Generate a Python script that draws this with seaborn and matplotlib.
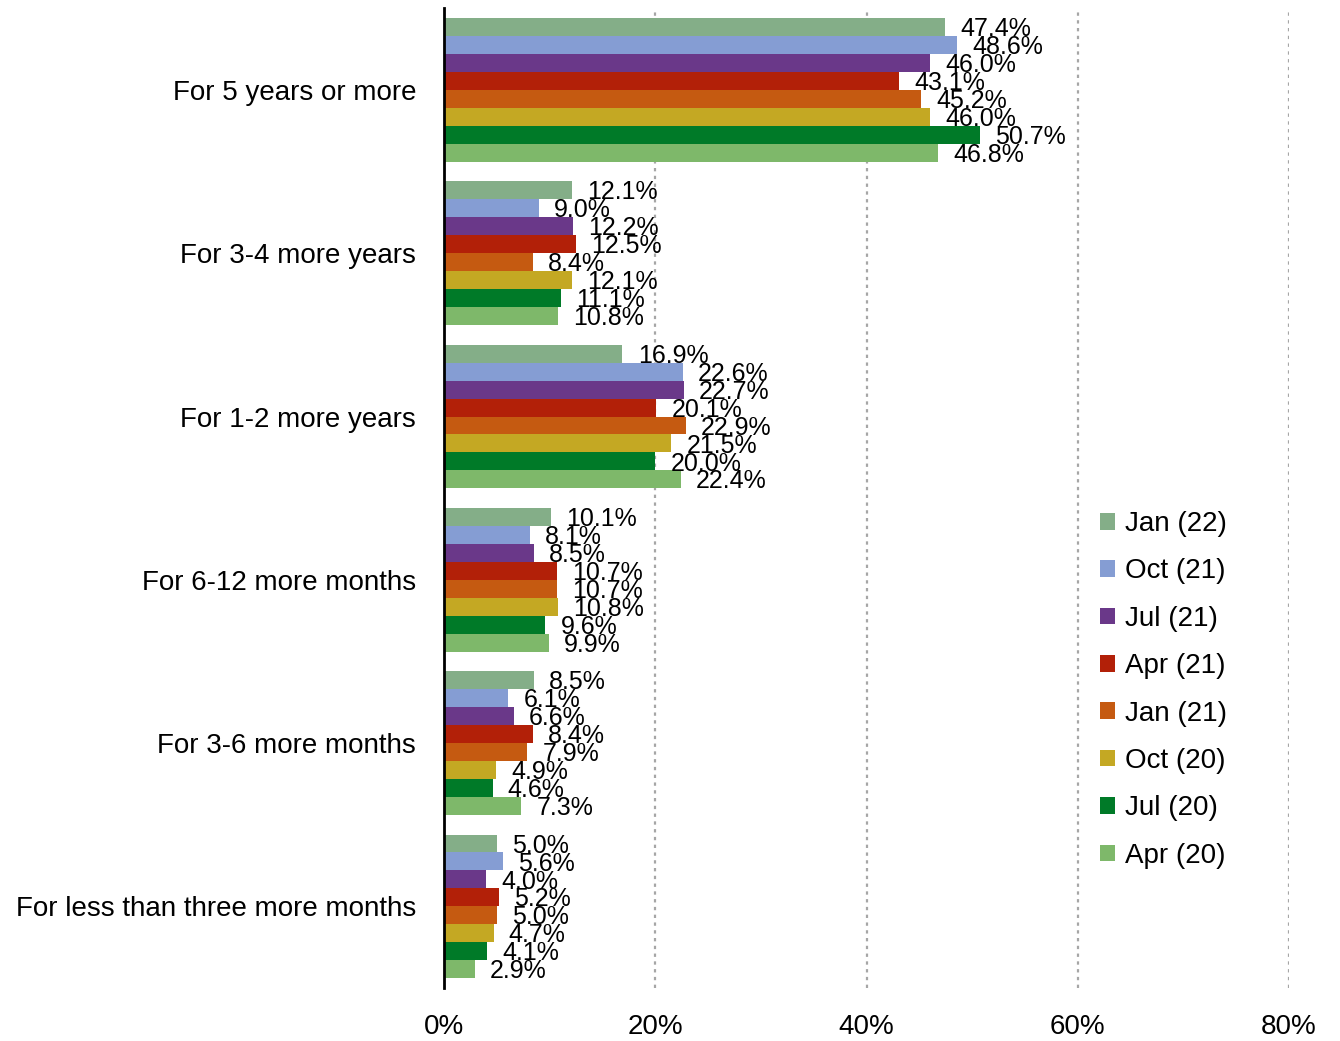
import matplotlib
matplotlib.use("Agg")
import matplotlib.pyplot as plt
import pandas as pd
import seaborn as sns
from matplotlib.patches import Patch
from matplotlib.ticker import FuncFormatter

# Expected remaining duration, by survey wave (percent of respondents)
categories = [
    "For 5 years or more",
    "For 3-4 more years",
    "For 1-2 more years",
    "For 6-12 more months",
    "For 3-6 more months",
    "For less than three more months",
]
waves = ["Jan (22)", "Oct (21)", "Jul (21)", "Apr (21)",
         "Jan (21)", "Oct (20)", "Jul (20)", "Apr (20)"]

jan22 = [47.4, 12.1, 16.9, 10.1, 8.5, 5.0]
oct21 = [48.6, 9.0, 22.6, 8.1, 6.1, 5.6]
jul21 = [46.0, 12.2, 22.7, 8.5, 6.6, 4.0]
apr21 = [43.1, 12.5, 20.1, 10.7, 8.4, 5.2]
jan21 = [45.2, 8.4, 22.9, 10.7, 7.9, 5.0]
oct20 = [46.0, 12.1, 21.5, 10.8, 4.9, 4.7]
jul20 = [50.7, 11.1, 20.0, 9.6, 4.6, 4.1]
apr20 = [46.8, 10.8, 22.4, 9.9, 7.3, 2.9]

wave_colors = ["#84AE88", "#859DD3", "#6A3889", "#B22008",
               "#C55A11", "#C4A823", "#007A28", "#7EB86A"]

series = [jan22, oct21, jul21, apr21, jan21, oct20, jul20, apr20]
df = pd.DataFrame(
    [(cat, w, v) for w, vals in zip(waves, series) for cat, v in zip(categories, vals)],
    columns=["category", "wave", "value"],
)

sns.set_theme(style="white")
plt.rcParams["font.family"] = ["Liberation Sans", "DejaVu Sans"]
plt.rcParams["text.color"] = "black"
plt.rcParams["xtick.color"] = "black"
plt.rcParams["ytick.color"] = "black"

fig = plt.figure(figsize=(13.4, 10.41), dpi=100)
ax = fig.add_axes([0.3313, 0.0509, 0.6307, 0.9411])

sns.barplot(
    data=df, y="category", x="value", hue="wave",
    order=categories, hue_order=waves, palette=wave_colors,
    orient="h", width=0.88, linewidth=0, saturation=1, legend=False, ax=ax,
)

for cont in ax.containers:
    labels = ax.bar_label(cont, fmt="%.1f%%", padding=11, fontsize=18, color="black",
                          family=["Liberation Sans Narrow", "Liberation Sans"])
    for t in labels:
        t.xyann = (11, -1.5)

ax.set_xlim(0, 80)
ax.set_xticks([0, 20, 40, 60, 80])
ax.xaxis.set_major_formatter(FuncFormatter(lambda x, _: f"{x:.0f}%"))
ax.set_xlabel("")
ax.set_ylabel("")
ax.tick_params(axis="x", length=0, pad=19, labelsize=20, labelcolor="black")
ax.tick_params(axis="y", length=0, pad=20, labelsize=20, labelcolor="black")

ax.xaxis.grid(True, color="#A6A6A6", linestyle=(0, (1.5, 2.0)), linewidth=1.6)
ax.yaxis.grid(False)
ax.set_axisbelow(True)
for side in ["top", "right", "bottom"]:
    ax.spines[side].set_visible(False)
ax.spines["left"].set_color("black")
ax.spines["left"].set_linewidth(2)

handles = [Patch(facecolor=c, edgecolor="none", label=w)
           for c, w in zip(wave_colors, waves)]
fig.legend(
    handles=handles, loc="upper left", bbox_to_anchor=(1100 / 1340, 1 - 511 / 1041),
    frameon=False, fontsize=20, handlelength=0.55, handleheight=0.55,
    handletextpad=0.35, labelspacing=0.77, borderaxespad=0, borderpad=0,
    labelcolor="black",
)

fig.savefig("out.png", dpi=100)
